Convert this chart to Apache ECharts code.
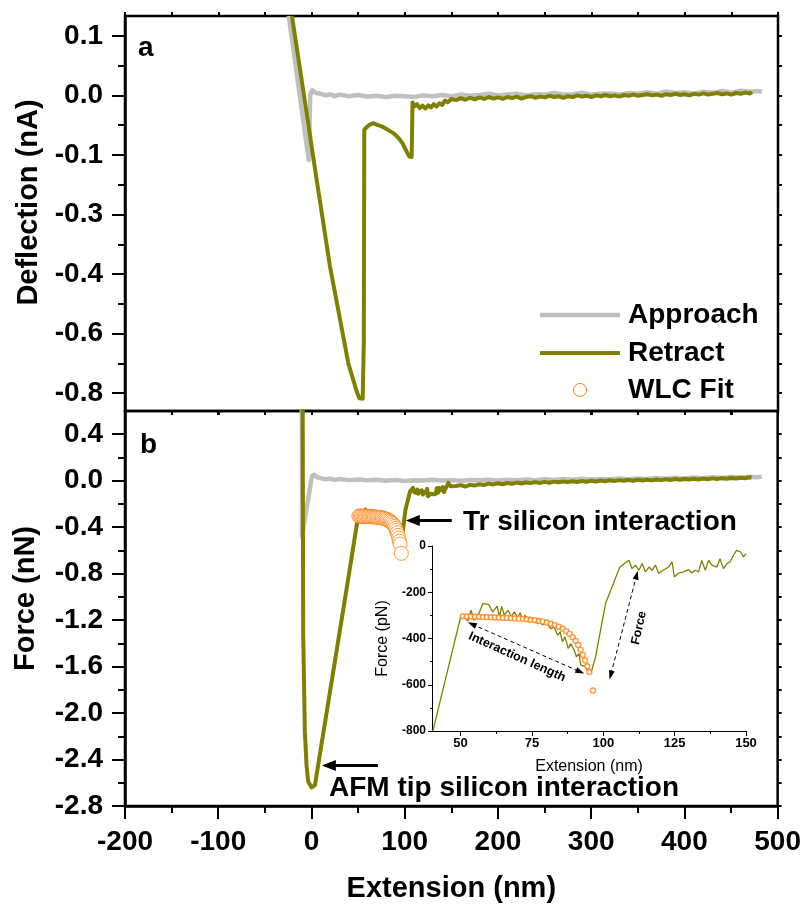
<!DOCTYPE html>
<html>
<head>
<meta charset="utf-8">
<script src="https://cdn.jsdelivr.net/npm/echarts@6/dist/echarts.min.js"></script>
<style>
  html, body { margin: 0; padding: 0; background: #fff; }
  #chart { width: 804px; height: 905px; }
</style>
</head>
<body>
<div id="chart"></div>
<script>
// panel a : deflection (nA) vs extension (nm)
var approachA = [[-24.5,0.2],[-3,-0.163],[-1.5,0.0],[0.5,0.013],[2,0.015],[5,0.006],[10,0.004],[15,0.0],[20,0.003],[25,-0.002],[30,0.002],
  [40,-0.002],[50,0.001],[60,-0.003],[70,-0.001],[80,-0.004],[90,-0.001],[100,-0.002],[110,-0.004],[120,0.0],[130,-0.002],[140,0.001],
  [150,-0.002],[160,0.002],[170,-0.001],[180,0.001],[190,0.004],[200,0.0],[210,0.002],[220,0.004],[230,0.0],[240,0.003],[250,0.002],
  [260,0.006],[270,0.002],[280,0.003],[290,0.007],[300,0.002],[310,0.004],[320,0.005],[330,0.002],[340,0.006],[350,0.004],[360,0.008],
  [370,0.004],[380,0.01],[390,0.006],[400,0.008],[410,0.004],[420,0.009],[430,0.007],[440,0.011],[450,0.007],[460,0.012],[470,0.009],
  [478,0.011],[483,0.009]];
var retractA = [[-21,0.2],[5.5,-0.213],[19.7,-0.43],[39.4,-0.675],[44.7,-0.717],[48.4,-0.746],[51.2,-0.763],[54.8,-0.764],[56,-0.62],
  [56.5,-0.087],[59.1,-0.08],[62,-0.074],[66.2,-0.07],[70,-0.074],[73,-0.076],[76.9,-0.08],[80,-0.084],[84,-0.09],[87.6,-0.095],
  [91,-0.102],[94.8,-0.112],[97.5,-0.121],[100.1,-0.133],[102.5,-0.144],[104.8,-0.154],[107.3,-0.155],[108.2,-0.018],
  [110,-0.028],[113,-0.022],[116,-0.032],[119,-0.026],[122,-0.033],[125,-0.025],[128,-0.03],[131,-0.022],[134,-0.028],[137,-0.02],
  [140,-0.024],[143,-0.013],[146,-0.017],[150,-0.009],[155,-0.012],[160,-0.007],[165,-0.011],[170,-0.006],[175,-0.01],[180,-0.005],
  [185,-0.009],[190,-0.004],[195,-0.008],[200,-0.005],[205,-0.009],[210,-0.004],[215,-0.007],[220,-0.003],[225,-0.008],[230,-0.004],
  [235,-0.002],[240,-0.006],[245,-0.003],[250,-0.005],[255,-0.001],[260,-0.004],[265,-0.002],[270,-0.006],[275,-0.002],[280,-0.004],
  [285,0.0],[290,-0.003],[295,-0.001],[300,-0.004],[305,0.0],[310,-0.002],[315,0.001],[320,-0.002],[325,0.0],[330,-0.003],[335,0.001],
  [340,-0.001],[345,0.002],[350,-0.001],[355,0.001],[360,0.003],[365,0.0],[370,0.002],[375,-0.001],[380,0.003],[385,0.001],[390,0.004],
  [395,0.001],[400,0.003],[405,0.0],[410,0.004],[415,0.002],[420,0.005],[425,0.002],[430,0.004],[435,0.006],[440,0.003],[445,0.005],
  [450,0.002],[455,0.006],[460,0.004],[465,0.007],[470,0.005],[472,0.009]];

// panel b : force (nN) vs extension (nm)
var approachB = [[-10.3,0.62],[-10.1,-0.48],[0.5,0.04],[3,0.052],[6,0.03],[10,0.022],[15,0.012],[20,0.017],[25,0.007],[30,0.014],
  [40,0.005],[50,0.011],[60,0.003],[70,0.009],[80,0.0],[90,0.006],[100,-0.003],[110,0.004],[120,0.001],[130,0.008],[140,0.002],
  [150,0.005],[160,-0.001],[170,0.006],[180,0.003],[190,0.009],[200,0.002],[210,0.008],[220,0.005],[230,0.011],[240,0.005],[250,0.012],
  [260,0.007],[270,0.014],[280,0.008],[290,0.016],[300,0.01],[310,0.015],[320,0.012],[330,0.019],[340,0.013],[350,0.02],[360,0.015],
  [370,0.023],[380,0.017],[390,0.025],[400,0.019],[410,0.027],[420,0.021],[430,0.029],[440,0.023],[450,0.031],[460,0.025],[470,0.033],
  [478,0.029],[483,0.035]];
var retractBHead = [[-9.4,0.62],[-8.9,-1.3],[-7.1,-2.16],[-5.3,-2.45],[-3.5,-2.59],[0.1,-2.64],[3.7,-2.62]];
var retractBTail = [[155,-0.045],[160,-0.038],[165,-0.05],[170,-0.036],[175,-0.042],[180,-0.03],[185,-0.037],[190,-0.025],[195,-0.032],
  [200,-0.022],[205,-0.03],[210,-0.02],[215,-0.027],[220,-0.016],[225,-0.024],[230,-0.015],[235,-0.021],[240,-0.012],[245,-0.019],
  [250,-0.01],[255,-0.017],[260,-0.008],[265,-0.014],[270,-0.006],[275,-0.012],[280,-0.004],[285,-0.011],[290,-0.003],[295,-0.009],
  [300,0.0],[305,-0.007],[310,0.002],[315,-0.004],[320,0.004],[325,-0.002],[330,0.005],[335,-0.001],[340,0.006],[345,0.0],[350,0.008],
  [355,0.002],[360,0.009],[365,0.003],[370,0.01],[375,0.005],[380,0.012],[385,0.006],[390,0.014],[395,0.008],[400,0.015],[405,0.01],
  [410,0.017],[415,0.011],[420,0.018],[425,0.013],[430,0.02],[435,0.015],[440,0.022],[445,0.017],[450,0.024],[455,0.019],[460,0.025],
  [465,0.021],[470,0.03],[472,0.026]];

// inset : force (pN) vs extension (nm)
var insetRetract = [[40.3,-800],[50,-309],[51.2,-306],[52.6,-324],[53.7,-278],[54.7,-321],[56,-306],[57.8,-249],[59.8,-252],[61.3,-285],
  [62.8,-260],[63.6,-306],[64.4,-261],[65.3,-298],[66.7,-278],[67.7,-306],[68.8,-285],[70,-309],[70.9,-288],[71.7,-321],[72.6,-299],
  [73.5,-324],[74.7,-314],[75.8,-321],[77,-335],[77.6,-314],[78.7,-342],[79.9,-328],[81.6,-357],[82.8,-350],[84,-386],[84.9,-371],
  [85.7,-414],[86.6,-393],[87.7,-443],[88.6,-422],[89.8,-450],[90.6,-479],[91.5,-465],[92.1,-515],[93.8,-522],[95,-548],[95.8,-544],
  [97.3,-479],[100.8,-249],[105.8,-91],[109,-62],[110.1,-98],[111.3,-83],[112.5,-105],[113.6,-76],[114.8,-112],[116,-91],[117.1,-105],
  [118.3,-83],[119.4,-119],[121,-105],[122.9,-91],[124.1,-69],[124.9,-134],[126.4,-117],[128.1,-112],[129.9,-102],[131,-117],[132.2,-105],
  [133.4,-112],[134.5,-62],[135.7,-105],[136.9,-62],[138,-83],[139.8,-91],[140.9,-55],[142.1,-98],[143.3,-76],[144.4,-69],[145.6,-40],
  [146.7,-19],[148.1,-26],[149.1,-47],[150,-33]];
var wlcFit = [[50.8,-304],[52.2,-305],[53.6,-305],[55.0,-306],[56.4,-306],[57.8,-307],[59.2,-307],[60.6,-308],[62.0,-309],[63.4,-309],
  [64.8,-310],[66.2,-311],[67.6,-312],[69.0,-313],[70.4,-314],[71.8,-315],[73.2,-317],[74.6,-319],[76.0,-321],[77.4,-324],[78.8,-327],
  [80.2,-331],[81.6,-336],[83.0,-342],[84.4,-349],[85.8,-358],[87.0,-368],[88.2,-380],[89.3,-394],[90.3,-410],[91.2,-428],[92.0,-448],
  [92.8,-470],[93.6,-494],[94.4,-520],[95.1,-545],[96.4,-625]];

// ticks
var topTicks = [0.15, 0, -0.15, -0.3, -0.45, -0.6, -0.75];
var topTickLabels = ['0.1', '0.0', '-0.1', '-0.3', '-0.4', '-0.6', '-0.8'];
var topMinor = [0.075, -0.075, -0.225, -0.375, -0.525, -0.675];
var botTicks = [0.4, 0, -0.4, -0.8, -1.2, -1.6, -2.0, -2.4, -2.8];
var botMinor = [0.2, -0.2, -0.6, -1.0, -1.4, -1.8, -2.2, -2.6];
var insetXTicks = [50, 75, 100, 125, 150];
var insetXMinor = [62.5, 87.5, 112.5, 137.5];

// panel b retract = head + inset trace (pN -> nN) + tail
var retractB = retractBHead.concat(insetRetract.map(function (p) { return [p[0], p[1] / 1000]; }), retractBTail);
var wlcFitNN = wlcFit.map(function (p) { return [p[0], p[1] / 1000]; });

var FONT = "'Liberation Sans', Arial, sans-serif";
var GRAY = '#c0c0c0', OLIVE = '#808000', ORANGE = '#ff7f0f';

function boldLabel(size) {
  return { color: '#000', fontFamily: FONT, fontWeight: 'bold', fontSize: size };
}
function noLine() {
  return { show: false, onZero: false };
}

var chart = echarts.init(document.getElementById('chart'), null, { renderer: 'canvas' });

var option = {
  animation: false,
  backgroundColor: '#fff',
  grid: [
    { left: 125, top: 16, width: 653, height: 395, show: true, borderColor: '#000', borderWidth: 2.5 },
    { left: 125, top: 411, width: 653, height: 395, show: true, borderColor: '#000', borderWidth: 2.5 },
    { left: 432, top: 546, width: 314, height: 185, show: false }
  ],
  xAxis: [
    { gridIndex: 0, type: 'value', min: -200, max: 500, interval: 50, position: 'bottom',
      axisLine: noLine(), axisLabel: { show: false }, splitLine: { show: false },
      axisTick: { show: true, length: 4, lineStyle: { color: '#000', width: 2 } } },
    { gridIndex: 0, type: 'value', min: -200, max: 500, interval: 50, position: 'top',
      axisLine: noLine(), axisLabel: { show: false }, splitLine: { show: false },
      axisTick: { show: true, length: 4, lineStyle: { color: '#000', width: 2 } } },
    { gridIndex: 1, type: 'value', min: -200, max: 500, interval: 100, position: 'bottom',
      axisLine: { show: true, onZero: false, lineStyle: { color: '#000', width: 2.5 } },
      axisTick: { show: true, length: 13, lineStyle: { color: '#000', width: 2 } },
      minorTick: { show: true, splitNumber: 2, length: 7, lineStyle: { color: '#000', width: 2 } },
      axisLabel: Object.assign({ margin: 22 }, boldLabel(28)),
      splitLine: { show: false }, minorSplitLine: { show: false },
      name: 'Extension (nm)', nameLocation: 'middle', nameGap: 68,
      nameTextStyle: boldLabel(29) },
    { gridIndex: 1, type: 'value', min: -200, max: 500, interval: 50, position: 'top',
      axisLine: noLine(), axisLabel: { show: false }, splitLine: { show: false },
      axisTick: { show: true, inside: true, length: 4, lineStyle: { color: '#000', width: 2 } } },
    { gridIndex: 2, type: 'value', min: 40, max: 150, position: 'bottom',
      axisLine: { show: true, onZero: false, lineStyle: { color: '#000', width: 1 } },
      axisTick: { show: true, length: 5, customValues: insetXTicks, lineStyle: { color: '#000', width: 1 } },
      axisLabel: Object.assign({ margin: 6, customValues: insetXTicks }, boldLabel(13)),
      splitLine: { show: false },
      name: 'Extension (nm)', nameLocation: 'middle', nameGap: 28,
      nameTextStyle: { color: '#000', fontFamily: FONT, fontSize: 16 } },
    { gridIndex: 2, type: 'value', min: 40, max: 150, position: 'bottom',
      axisLine: noLine(), axisLabel: { show: false }, splitLine: { show: false },
      axisTick: { show: true, length: 3, customValues: insetXMinor, lineStyle: { color: '#000', width: 1 } } }
  ],
  yAxis: [
    { gridIndex: 0, type: 'value', min: -0.795, max: 0.2, position: 'left',
      axisLine: { show: true, onZero: false, lineStyle: { color: '#000', width: 2.5 } },
      axisTick: { show: true, length: 13, customValues: topTicks, lineStyle: { color: '#000', width: 2 } },
      axisLabel: Object.assign({
        margin: 22, customValues: topTicks,
        formatter: function (v) {
          for (var i = 0; i < topTicks.length; i++) {
            if (Math.abs(topTicks[i] - v) < 1e-6) return topTickLabels[i];
          }
          return '';
        }
      }, boldLabel(28)),
      splitLine: { show: false },
      name: 'Deflection (nA)', nameLocation: 'middle', nameGap: 79,
      nameTextStyle: Object.assign({ padding: [0, 0, 0, 22] }, boldLabel(29)) },
    { gridIndex: 0, type: 'value', min: -0.795, max: 0.2, position: 'left',
      axisLine: noLine(), axisLabel: { show: false }, splitLine: { show: false },
      axisTick: { show: true, length: 7, customValues: topMinor, lineStyle: { color: '#000', width: 2 } } },
    { gridIndex: 0, type: 'value', min: -0.795, max: 0.2, position: 'right',
      axisLine: noLine(), axisLabel: { show: false }, splitLine: { show: false },
      axisTick: { show: true, length: 4, customValues: topTicks.concat(topMinor), lineStyle: { color: '#000', width: 2 } } },
    { gridIndex: 1, type: 'value', min: -2.8, max: 0.6, position: 'left',
      axisLine: { show: true, onZero: false, lineStyle: { color: '#000', width: 2.5 } },
      axisTick: { show: true, length: 13, customValues: botTicks, lineStyle: { color: '#000', width: 2 } },
      axisLabel: Object.assign({
        margin: 22, customValues: botTicks,
        formatter: function (v) { return v.toFixed(1); }
      }, boldLabel(28)),
      splitLine: { show: false },
      name: 'Force (nN)', nameLocation: 'middle', nameGap: 85,
      nameTextStyle: Object.assign({ padding: [0, 0, 0, 20] }, boldLabel(29)) },
    { gridIndex: 1, type: 'value', min: -2.8, max: 0.6, position: 'left',
      axisLine: noLine(), axisLabel: { show: false }, splitLine: { show: false },
      axisTick: { show: true, length: 7, customValues: botMinor, lineStyle: { color: '#000', width: 2 } } },
    { gridIndex: 1, type: 'value', min: -2.8, max: 0.6, position: 'right',
      axisLine: noLine(), axisLabel: { show: false }, splitLine: { show: false },
      axisTick: { show: true, length: 4, customValues: botTicks.concat(botMinor), lineStyle: { color: '#000', width: 2 } } },
    { gridIndex: 2, type: 'value', min: -800, max: 0, interval: 200, position: 'left',
      axisLine: { show: true, onZero: false, lineStyle: { color: '#000', width: 1 } },
      axisTick: { show: true, length: 4, lineStyle: { color: '#000', width: 1 } },
      minorTick: { show: true, splitNumber: 2, length: 2, lineStyle: { color: '#000', width: 1 } },
      axisLabel: Object.assign({ margin: 6 }, boldLabel(12)),
      splitLine: { show: false }, minorSplitLine: { show: false },
      name: 'Force (pN)', nameLocation: 'middle', nameGap: 41,
      nameTextStyle: { color: '#000', fontFamily: FONT, fontSize: 16 } }
  ],
  series: [
    { name: 'Approach', type: 'line', xAxisIndex: 0, yAxisIndex: 0, data: approachA,
      symbol: 'none', lineStyle: { color: GRAY, width: 4.5, join: 'round' }, z: 2 },
    { name: 'Retract', type: 'line', xAxisIndex: 0, yAxisIndex: 0, data: retractA,
      symbol: 'none', lineStyle: { color: OLIVE, width: 4, join: 'round' }, z: 3 },
    { name: 'Approach b', type: 'line', xAxisIndex: 2, yAxisIndex: 3, data: approachB,
      symbol: 'none', lineStyle: { color: GRAY, width: 4.5, join: 'round' }, z: 2 },
    { name: 'Retract b', type: 'line', xAxisIndex: 2, yAxisIndex: 3, data: retractB,
      symbol: 'none', lineStyle: { color: OLIVE, width: 4, join: 'round' }, z: 3,
      markLine: {
        silent: true, animation: false, symbol: ['none', 'triangle'], symbolSize: [11, 14],
        label: { show: false },
        lineStyle: { color: '#000', width: 3, type: 'solid' },
        data: [
          [{ coord: [150.5, -0.343] }, { coord: [108.7, -0.343] }],
          [{ coord: [71.2, -2.451] }, { coord: [18.7, -2.451] }]
        ]
      } },
    { name: 'WLC Fit', type: 'scatter', xAxisIndex: 2, yAxisIndex: 3, data: wlcFitNN,
      symbol: 'circle', symbolSize: 14,
      itemStyle: { color: '#fff', borderColor: ORANGE, borderWidth: 1 }, z: 4 },
    { name: 'Inset retract', type: 'line', xAxisIndex: 4, yAxisIndex: 6, data: insetRetract,
      symbol: 'none', lineStyle: { color: OLIVE, width: 1.3 }, z: 3,
      markLine: {
        silent: true, animation: false, symbol: ['triangle', 'triangle'], symbolSize: [6, 9],
        label: { show: false },
        lineStyle: { color: '#000', width: 1, type: [4, 3] },
        data: [
          [{ coord: [54.0, -338] }, { coord: [91.9, -544] }],
          [{ coord: [111.7, -126] }, { coord: [102.6, -558] }]
        ]
      } },
    { name: 'Inset WLC', type: 'scatter', xAxisIndex: 4, yAxisIndex: 6, data: wlcFit,
      symbol: 'circle', symbolSize: 5,
      itemStyle: { color: '#fff', borderColor: ORANGE, borderWidth: 1.4 }, z: 4 }
  ],
  graphic: [
    { type: 'text', x: 138, y: 48, style: { text: 'a', fontFamily: FONT, fontWeight: 'bold', fontSize: 28, fill: '#000', verticalAlign: 'middle' } },
    { type: 'text', x: 140, y: 445, style: { text: 'b', fontFamily: FONT, fontWeight: 'bold', fontSize: 28, fill: '#000', verticalAlign: 'middle' } },
    // legend
    { type: 'line', shape: { x1: 540, y1: 315, x2: 620, y2: 315 }, style: { stroke: GRAY, lineWidth: 4.5 } },
    { type: 'line', shape: { x1: 540, y1: 353, x2: 620, y2: 353 }, style: { stroke: OLIVE, lineWidth: 4 } },
    { type: 'circle', shape: { cx: 580, cy: 390, r: 6.5 }, style: { fill: '#fff', stroke: ORANGE, lineWidth: 1 } },
    { type: 'text', x: 628, y: 315, style: { text: 'Approach', fontFamily: FONT, fontWeight: 'bold', fontSize: 28, fill: '#000', verticalAlign: 'middle' } },
    { type: 'text', x: 628, y: 353, style: { text: 'Retract', fontFamily: FONT, fontWeight: 'bold', fontSize: 28, fill: '#000', verticalAlign: 'middle' } },
    { type: 'text', x: 628, y: 390, style: { text: 'WLC Fit', fontFamily: FONT, fontWeight: 'bold', fontSize: 28, fill: '#000', verticalAlign: 'middle' } },
    // annotations
    { type: 'text', x: 463, y: 522, style: { text: 'Tr silicon interaction', fontFamily: FONT, fontWeight: 'bold', fontSize: 28, fill: '#000', verticalAlign: 'middle' } },
    { type: 'text', x: 329, y: 788, style: { text: 'AFM tip silicon interaction', fontFamily: FONT, fontWeight: 'bold', fontSize: 28, fill: '#000', verticalAlign: 'middle' } },
    { type: 'text', x: 517, y: 657, rotation: -0.42, style: { text: 'Interaction length', fontFamily: FONT, fontWeight: 'bold', fontSize: 12.5, fill: '#000', align: 'center', verticalAlign: 'middle' } },
    { type: 'text', x: 639, y: 628, rotation: 1.35, style: { text: 'Force', fontFamily: FONT, fontWeight: 'bold', fontSize: 12.5, fill: '#000', align: 'center', verticalAlign: 'middle' } }
  ]
};

chart.setOption(option);
</script>
</body>
</html>
